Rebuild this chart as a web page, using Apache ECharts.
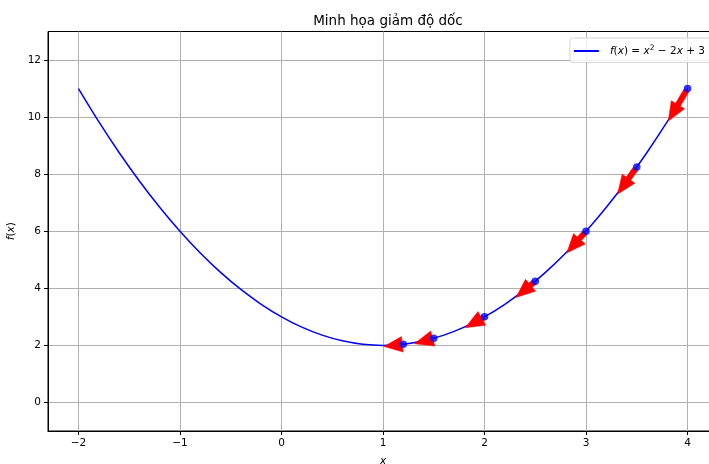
<!DOCTYPE html>
<html>
<head>
<meta charset="utf-8">
<script src="https://cdn.jsdelivr.net/npm/echarts@6/dist/echarts.min.js"></script>
<style>html,body{margin:0;padding:0;background:#fff}#c{width:709px;height:464px}</style>
</head>
<body>
<div id="c"></div>
<script>
// Curve samples f(x) = x^2 - 2x + 3
var curveX = [-2,-1.8,-1.6,-1.4,-1.2,-1,-0.8,-0.6,-0.4,-0.2,0,0.2,0.4,0.6,0.8,1,1.2,1.4,1.6,1.8,2,2.2,2.4,2.6,2.8,3,3.2,3.4,3.6,3.8,4];
var curveY = [11,9.84,8.76,7.76,6.84,6,5.24,4.56,3.96,3.44,3,2.64,2.36,2.16,2.04,2,2.04,2.16,2.36,2.64,3,3.44,3.96,4.56,5.24,6,6.84,7.76,8.76,9.84,11];
// Descent points
var stepX = [4,3.5,3,2.5,2,1.5,1.2];
var stepY = [11,8.25,6,4.25,3,2.25,2.04];
// Arrow vectors
var arrowDx = [-0.2,-0.2,-0.2,-0.2,-0.2,-0.2,-0.2];
var arrowDy = [-1.2,-1.0,-0.8,-0.6,-0.4,-0.2,-0.08];
// Ticks
var xTicks = [-2,-1,0,1,2,3,4];
var yTicks = [0,2,4,6,8,10,12];

var curveData = curveX.map(function(x,i){return [x,curveY[i]];});
var stepData = stepX.map(function(x,i){return [x,stepY[i]];});
var arrowData = stepX.map(function(x,i){return [x,stepY[i],arrowDx[i],arrowDy[i]];});

var chart = echarts.init(document.getElementById('c'));
var font = 'DejaVu Sans';
function fmtNum(v){return v<0?'\u2212'+Math.abs(v):String(v);}

chart.setOption({
  animation:false,
  title:{text:'Minh họa giảm độ dốc',left:383,top:9,textAlign:'center',
    textStyle:{fontFamily:font,fontSize:13.5,fontWeight:'normal',color:'#000'}},
  legend:{
    right:-10, top:38, itemWidth:25, itemHeight:2, itemGap:5,
    padding:[6,14,6,4],
    borderColor:'#d6d6d6', borderWidth:1, borderRadius:3, backgroundColor:'rgba(255,255,255,0.8)',
    data:[{name:'f', icon:'rect'}],
    formatter:function(){return '{i|f}({i|x}) = {i|x}{s|2} \u2212 2{i|x} + 3';},
    textStyle:{fontFamily:font,fontSize:10.5,color:'#000',padding:[0,0,0,6],
      rich:{i:{fontFamily:font,fontStyle:'italic',fontSize:10.5},
            s:{fontFamily:font,fontSize:7.5,verticalAlign:'top',padding:[0,0,6,0]}}}
  },
  grid:{left:48,width:670,top:31.5,height:399.5,containLabel:false,outerBoundsMode:'none',
    show:true,borderColor:'#000',borderWidth:1,backgroundColor:'transparent'},
  xAxis:{type:'value',min:-2.3,max:4.3,
    name:'x',nameLocation:'middle',nameGap:25,
    nameTextStyle:{fontFamily:font,fontSize:10.5,fontStyle:'italic',color:'#000'},
    axisLine:{show:true,onZero:false,lineStyle:{color:'#000',width:1}},
    axisTick:{show:true,length:4,customValues:xTicks,lineStyle:{color:'#000'}},
    axisLabel:{customValues:xTicks,formatter:fmtNum,fontFamily:font,fontSize:10.5,color:'#000',margin:7},
    splitLine:{show:true,lineStyle:{color:'#b0b0b0',width:1}}
  },
  yAxis:{type:'value',min:-1,max:13,
    name:'{i|f}({i|x})',nameLocation:'middle',nameGap:31,nameRotate:90,
    nameTextStyle:{fontFamily:font,fontSize:10.5,color:'#000',rich:{i:{fontFamily:font,fontStyle:'italic',fontSize:10.5}}},
    axisLine:{show:true,onZero:false,lineStyle:{color:'#000',width:1}},
    axisTick:{show:true,length:4,customValues:yTicks,lineStyle:{color:'#000'}},
    axisLabel:{customValues:yTicks,formatter:fmtNum,fontFamily:font,fontSize:10.5,color:'#000',margin:7},
    splitLine:{show:true,lineStyle:{color:'#b0b0b0',width:1}}
  },
  series:[
    {name:'f',type:'line',data:curveData,smooth:0.3,showSymbol:false,symbol:'none',
      lineStyle:{color:'#0000ff',width:1.5},itemStyle:{color:'#0000ff'},z:2},
    {type:'custom',data:arrowData,z:3,
      renderItem:function(params,api){
        var x=api.value(0),y=api.value(1),dx=api.value(2),dy=api.value(3);
        var p0=api.coord([x,y]),p1=api.coord([x+dx,y+dy]);
        var vx=p1[0]-p0[0],vy=p1[1]-p0[1];
        var s=[p0[0]+0.05*vx,p0[1]+0.05*vy],e=[p1[0]-0.05*vx,p1[1]-0.05*vy];
        var L=Math.sqrt((e[0]-s[0])*(e[0]-s[0])+(e[1]-s[1])*(e[1]-s[1]));
        var ux=(e[0]-s[0])/L,uy=(e[1]-s[1])/L,nx=-uy,ny=ux;
        var hl=Math.min(19,L),hw=7.8,sw=2.8;
        var b=[e[0]-ux*hl,e[1]-uy*hl];
        var pts=[
          [s[0]+nx*sw,s[1]+ny*sw],[b[0]+nx*sw,b[1]+ny*sw],[b[0]+nx*hw,b[1]+ny*hw],
          e,[b[0]-nx*hw,b[1]-ny*hw],[b[0]-nx*sw,b[1]-ny*sw],[s[0]-nx*sw,s[1]-ny*sw]];
        return {type:'polygon',shape:{points:pts},style:{fill:'#ff0000',stroke:'#ff0000',lineWidth:0.5}};
      }
    },
    {type:'scatter',data:stepData,symbol:'circle',symbolSize:7.5,itemStyle:{color:'#0000ff'},z:4}
  ]
});
</script>
</body>
</html>
